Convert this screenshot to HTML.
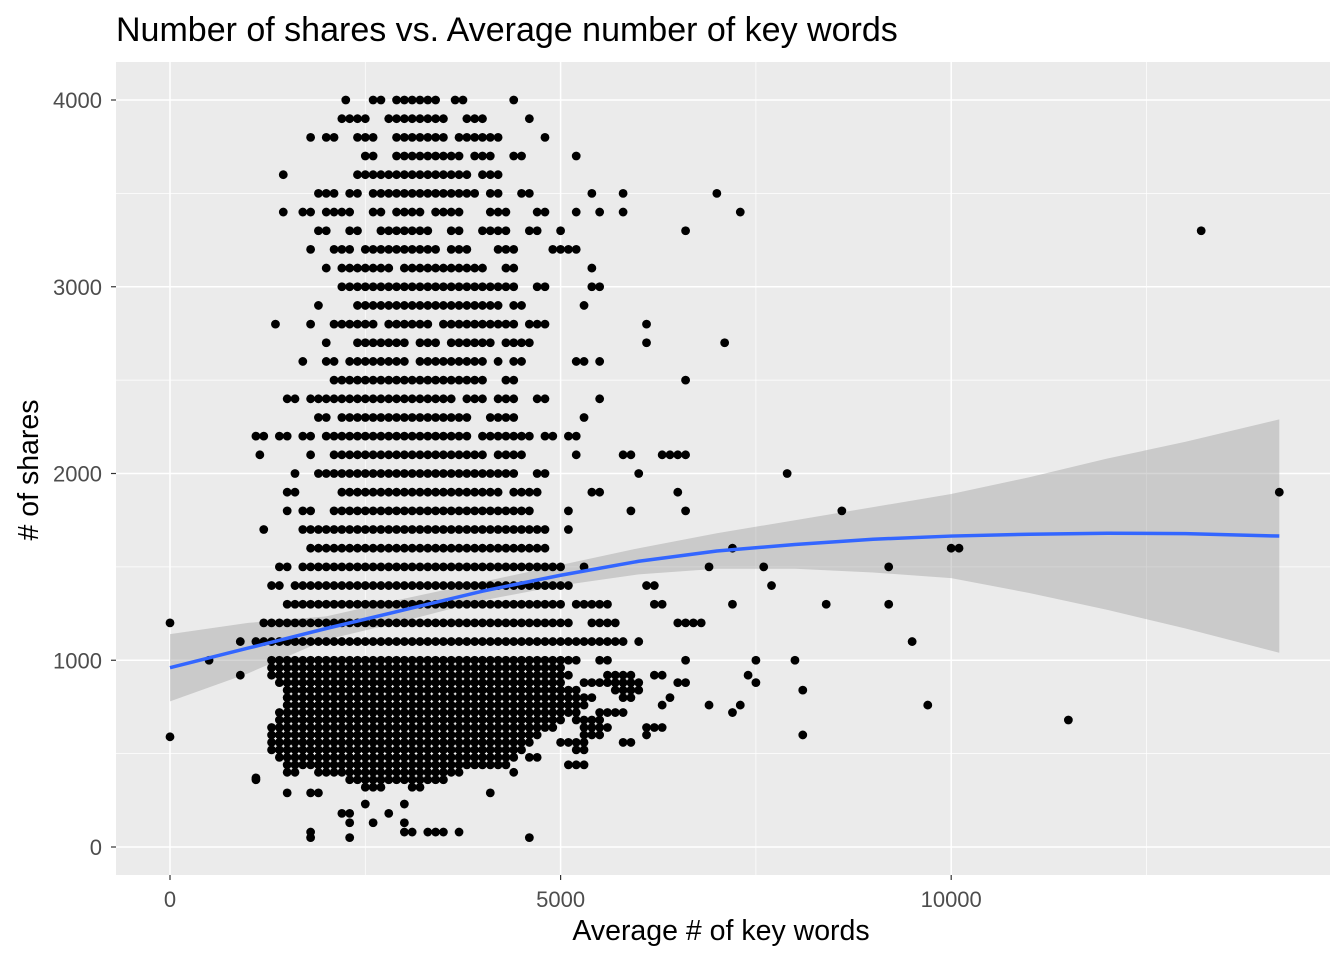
<!DOCTYPE html>
<html><head><meta charset="utf-8"><style>
body{margin:0;background:#fff;font-family:"Liberation Sans",Arial,sans-serif}
</style></head><body>
<svg id="chart" width="1344" height="960" xmlns="http://www.w3.org/2000/svg">
<rect width="1344" height="960" fill="#fff"/>
<text x="116" y="41" font-size="34" fill="#000">Number of shares vs. Average number of key words</text>
<rect x="116" y="62" width="1214" height="813" fill="#ebebeb"/>
<g id="grid"></g><g id="band"></g><g id="pts"></g><g id="fit"></g><g id="axes"></g>
<text x="721" y="940" font-size="28.5" text-anchor="middle" fill="#000">Average # of key words</text>
<text transform="translate(38,470) rotate(-90)" font-size="28.5" text-anchor="middle" fill="#000"># of shares</text>
</svg>
<script>
const xTicks=[0,5000,10000];
const yTicks=[0,1000,2000,3000,4000];
const xMinor=[2500,7500,12500];
const yMinor=[500,1500,2500,3500];
// scatter runs: [y, xStart, xEnd] (points every 100 units along run)
const runs=[
[4000,2250,2300],[4000,2600,2700],[4000,2900,3400],[4000,3650,3750],[4000,4400,4400],
[3900,2200,2500],[3900,2800,3500],[3900,3800,4000],[3900,4600,4600],
[3800,1800,1800],[3800,2000,2100],[3800,2400,2600],[3800,2900,3500],[3800,3700,4200],[3800,4800,4800],
[3700,2500,2600],[3700,2900,3300],[3700,3400,3700],[3700,3900,4100],[3700,4400,4500],[3700,5200,5200],
[3600,1450,1450],[3600,2400,2500],[3600,2600,3300],[3600,3400,3800],[3600,4000,4200],
[3500,1900,2100],[3500,2300,2400],[3500,2600,2800],[3500,2900,3500],[3500,3600,3900],[3500,4100,4200],[3500,4500,4600],[3500,5400,5400],[3500,5800,5800],[3500,7000,7000],
[3400,1450,1450],[3400,1700,1800],[3400,2000,2300],[3400,2600,2700],[3400,2900,3200],[3400,3400,3700],[3400,4100,4300],[3400,4700,4800],[3400,5200,5200],[3400,5500,5500],[3400,5800,5800],[3400,7300,7300],
[3300,1900,2000],[3300,2300,2400],[3300,2700,3300],[3300,3600,3700],[3300,4000,4300],[3300,4600,4700],[3300,5000,5000],[3300,6600,6600],
[3200,1800,1800],[3200,2100,2300],[3200,2500,3000],[3200,3100,3400],[3200,3600,3800],[3200,4200,4400],[3200,4900,5200],
[3100,2000,2000],[3100,2200,2800],[3100,3000,3600],[3100,3700,4000],[3100,4300,4400],[3100,5400,5400],
[3000,2200,2500],[3000,2600,3400],[3000,3500,3900],[3000,4000,4400],[3000,4700,4800],[3000,5400,5500],
[2900,1900,1900],[2900,2400,3300],[2900,3400,3800],[2900,3900,4200],[2900,4400,4500],[2900,5300,5300],
[2800,1350,1350],[2800,1800,1800],[2800,2100,2200],[2800,2300,2600],[2800,2800,3300],[2800,3500,4400],[2800,4600,4800],[2800,6100,6100],
[2700,2000,2000],[2700,2400,3000],[2700,3200,3400],[2700,3600,4100],[2700,4300,4600],[2700,6100,6100],[2700,7100,7100],
[2600,1700,1700],[2600,2000,2100],[2600,2300,2600],[2600,2700,3000],[2600,3200,4000],[2600,4200,4200],[2600,4400,4500],[2600,5200,5300],[2600,5500,5500],
[2500,2100,2300],[2500,2400,2600],[2500,2700,3500],[2500,3600,4000],[2500,4300,4400],[2500,6600,6600],
[2400,1500,1600],[2400,1800,2000],[2400,2100,2400],[2400,2500,3600],[2400,3800,4000],[2400,4200,4400],[2400,4700,4800],[2400,5500,5500],
[2300,1900,2000],[2300,2200,3800],[2300,4100,4400],[2300,5300,5300],
[2200,1100,1200],[2200,1400,1500],[2200,1700,1800],[2200,2000,3800],[2200,4000,4600],[2200,4800,4900],[2200,5100,5200],
[2100,1150,1150],[2100,1800,1800],[2100,2100,4000],[2100,4200,4500],[2100,5200,5200],[2100,5800,5900],[2100,6300,6500],[2100,6600,6600],
[2000,1600,1600],[2000,1900,4100],[2000,4200,4400],[2000,4700,4800],[2000,6000,6000],[2000,7900,7900],
[1900,1500,1600],[1900,2200,4200],[1900,4400,4700],[1900,5400,5500],[1900,6500,6500],
[1800,1500,1500],[1800,1700,1800],[1800,2100,4600],[1800,5100,5100],[1800,5900,5900],[1800,6600,6600],[1800,8600,8600],
[1700,1200,1200],[1700,1700,4800],[1700,5100,5100],
[1600,1800,4400],[1600,4500,4800],[1600,7200,7200],[1600,10000,10100],
[1500,1400,1500],[1500,1700,5000],[1500,5300,5300],[1500,6900,6900],[1500,7600,7600],[1500,9200,9200],
[1400,1300,1400],[1400,1600,5100],[1400,6100,6200],[1400,7700,7700],
[1300,1500,5000],[1300,5200,5600],[1300,6200,6300],[1300,7200,7200],[1300,8400,8400],[1300,9200,9200],
[1200,0,0],[1200,1200,5100],[1200,5400,5700],[1200,6500,6800],
[1100,900,900],[1100,1100,5500],[1100,5600,5800],[1100,6000,6000],[1100,9500,9500],
[1000,500,500],[1000,1300,5200],[1000,5500,5600],[1000,6600,6600],[1000,7500,7500],[1000,8000,8000],
[960,1300,5000],[920,900,900],[920,1300,5100],[920,5600,5900],[920,6200,6300],[920,7400,7400],
[880,1400,5000],[880,5300,6000],[880,6500,6600],[880,7500,7500],
[840,1500,5200],[840,5700,6000],[840,8100,8100],
[800,1500,5400],[800,5800,5900],[800,6400,6400],
[760,1500,5300],[760,6300,6300],[760,6900,6900],[760,7300,7300],[760,9700,9700],
[720,1400,5200],[720,5500,5800],[720,7200,7200],
[680,1400,5000],[680,5200,5500],[680,11500,11500],
[640,1300,4900],[640,5300,5600],[640,6100,6300],
[600,1300,4700],[600,5300,5500],[600,6100,6100],[600,8100,8100],
[560,1300,4600],[560,5000,5300],[560,5800,5900],
[520,1300,4500],[520,5200,5300],
[480,1400,4400],[480,4600,4700],
[440,1500,4300],[440,5100,5300],
[400,1500,1600],[400,1900,3700],[400,4400,4400],
[360,1100,1100],[360,2300,3500],
[320,2500,2700],[320,3100,3200],
[290,1500,1500],[290,1800,1900],[290,4100,4100],
[230,2500,2500],[230,3000,3000],
[180,2200,2300],[180,2800,2800],
[130,2300,2300],[130,2600,2600],[130,3000,3000],
[80,1800,1800],[80,3000,3100],[80,3300,3500],[80,3700,3700],
[50,1800,1800],[50,2300,2300],[50,4600,4600]
];
const outX=[0,13200,14200,1100];
const outY=[590,3300,1900,370];
const fitX=[0,1000,2000,3000,4000,5000,6000,7000,8000,9000,10000,11000,12000,13000,14200];
const fitY=[960,1065,1170,1270,1370,1455,1530,1585,1620,1648,1665,1675,1680,1678,1665];
const fitLo=[780,930,1110,1210,1320,1400,1460,1490,1490,1470,1440,1360,1270,1170,1040];
const fitHi=[1140,1200,1235,1330,1420,1510,1600,1680,1750,1820,1890,1980,2080,2170,2290];

const X=v=>170+v*0.07812;
const Y=v=>847-v*0.18675;
const NS="http://www.w3.org/2000/svg";
function mk(tag,attrs,parent){const e=document.createElementNS(NS,tag);for(const k in attrs)e.setAttribute(k,attrs[k]);parent.appendChild(e);return e;}
const grid=document.getElementById('grid'),axes=document.getElementById('axes');
xMinor.forEach(v=>{const l=mk('line',{x1:X(v),x2:X(v),y1:62,y2:875,stroke:'#fff','stroke-width':0.7},grid);});
yMinor.forEach(v=>{const l=mk('line',{x1:116,x2:1330,y1:Y(v),y2:Y(v),stroke:'#fff','stroke-width':0.7},grid);});
xTicks.forEach(v=>{const l=mk('line',{x1:X(v),x2:X(v),y1:62,y2:875,stroke:'#fff','stroke-width':1.5},grid);
const t=mk('line',{x1:X(v),x2:X(v),y1:875,y2:880,stroke:'#333','stroke-width':1.2},axes);
const tx=mk('text',{x:X(v),y:907,'font-size':22,'text-anchor':'middle',fill:'#4d4d4d'},axes);tx.textContent=v;});
yTicks.forEach(v=>{const l=mk('line',{x1:116,x2:1330,y1:Y(v),y2:Y(v),stroke:'#fff','stroke-width':1.5},grid);
const t=mk('line',{x1:111,x2:116,y1:Y(v),y2:Y(v),stroke:'#333','stroke-width':1.2},axes);
const tx=mk('text',{x:102,y:Y(v)+8,'font-size':22,'text-anchor':'end',fill:'#4d4d4d'},axes);tx.textContent=v;});
const pts=document.getElementById('pts');
runs.forEach(r=>{for(let x=r[1];x<=r[2];x+=100){const c=mk('circle',{cx:X(x),cy:Y(r[0]),r:4.4,fill:'#000'},pts);}});
outX.forEach((x,i)=>{const c=mk('circle',{cx:X(x),cy:Y(outY[i]),r:4.4,fill:'#000'},pts);});
let bd='M'+fitX.map((x,i)=>X(x)+','+Y(fitHi[i])).join('L');
for(let i=fitX.length-1;i>=0;i--)bd+='L'+X(fitX[i])+','+Y(fitLo[i]);
const band=mk('path',{d:bd+'Z',fill:'#999','fill-opacity':0.4},document.getElementById('band'));

const fl=mk('path',{d:'M'+fitX.map((x,i)=>X(x)+','+Y(fitY[i])).join('L'),fill:'none',stroke:'#3366ff','stroke-width':3.5},document.getElementById('fit'));

</script>
</body></html>
